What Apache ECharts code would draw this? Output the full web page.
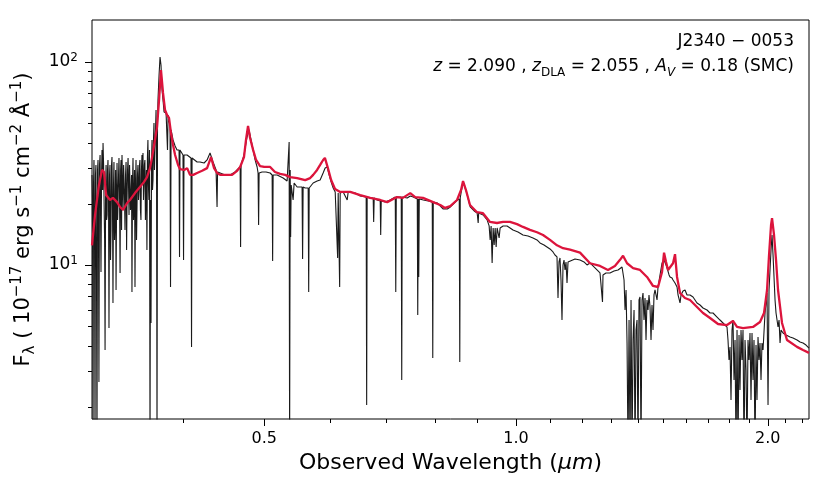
<!DOCTYPE html>
<html lang="en">
<head>
<meta charset="UTF-8" />
<title>J2340-0053 spectrum</title>
<script src="https://cdn.jsdelivr.net/npm/echarts@6/dist/echarts.min.js"></script>
<style>
  html, body { margin: 0; padding: 0; background: #fff; }
  #chart { width: 830px; height: 494px; }
</style>
</head>
<body>
<div id="chart"></div>
<script>
// observed spectrum, wavelength in micron
const obsWave = [
  0.3112, 0.3116, 0.3121, 0.3125, 0.3129, 0.3134, 0.3138, 0.3142, 0.3146, 0.3151,
  0.3155, 0.3160, 0.3164, 0.3168, 0.3172, 0.3177, 0.3182, 0.3186, 0.3190, 0.3195,
  0.3199, 0.3204, 0.3208, 0.3213, 0.3217, 0.3222, 0.3226, 0.3231, 0.3235, 0.3240,
  0.3244, 0.3248, 0.3252, 0.3257, 0.3261, 0.3266, 0.3270, 0.3275, 0.3279, 0.3284,
  0.3288, 0.3293, 0.3297, 0.3302, 0.3306, 0.3311, 0.3316, 0.3321, 0.3325, 0.3330,
  0.3334, 0.3339, 0.3343, 0.3348, 0.3352, 0.3357, 0.3362, 0.3367, 0.3371, 0.3376,
  0.3380, 0.3385, 0.3390, 0.3395, 0.3399, 0.3404, 0.3408, 0.3413, 0.3418, 0.3423,
  0.3427, 0.3432, 0.3437, 0.3442, 0.3446, 0.3451, 0.3455, 0.3460, 0.3465, 0.3470,
  0.3474, 0.3479, 0.3484, 0.3489, 0.3494, 0.3499, 0.3503, 0.3508, 0.3513, 0.3518,
  0.3522, 0.3527, 0.3532, 0.3537, 0.3542, 0.3547, 0.3551, 0.3556, 0.3561, 0.3566,
  0.3571, 0.3576, 0.3581, 0.3586, 0.3590, 0.3595, 0.3600, 0.3605, 0.3610, 0.3615,
  0.3620, 0.3625, 0.3630, 0.3635, 0.3640, 0.3646, 0.3651, 0.3656, 0.3661, 0.3666,
  0.3671, 0.3676, 0.3681, 0.3686, 0.3691, 0.3696, 0.3701, 0.3707, 0.3712, 0.3717,
  0.3722, 0.3727,
  0.3732, 0.3743, 0.3753, 0.3763,
  0.3774, 0.3784, 0.3795, 0.3805, 0.3816, 0.3826, 0.3831, 0.3837, 0.3858, 0.3863,
  0.3869, 0.3890, 0.3912, 0.3933, 0.3955, 0.3960, 0.3965, 0.3998, 0.4004, 0.4009,
  0.4043, 0.4065, 0.4087, 0.4093, 0.4099, 0.4110, 0.4156, 0.4190, 0.4237, 0.4272,
  0.4307, 0.4343, 0.4379, 0.4391, 0.4397, 0.4428, 0.4489, 0.4551, 0.4614, 0.4679,
  0.4685, 0.4691, 0.4729, 0.4769, 0.4795, 0.4822, 0.4849, 0.4876, 0.4903, 0.4916,
  0.4923, 0.4930, 0.4970, 0.5025, 0.5082, 0.5110, 0.5117, 0.5124, 0.5181, 0.5267,
  0.5325, 0.5355, 0.5362, 0.5370, 0.5377, 0.5385, 0.5414, 0.5429, 0.5474, 0.5549,
  0.5557, 0.5565, 0.5597, 0.5643, 0.5651, 0.5659, 0.5721, 0.5784, 0.5832, 0.5880,
  0.5913, 0.5946, 0.5979, 0.6012, 0.6045, 0.6079, 0.6112, 0.6120, 0.6129, 0.6146,
  0.6154, 0.6163, 0.6214, 0.6283, 0.6300, 0.6335, 0.6422, 0.6512, 0.6620, 0.6629,
  0.6638, 0.6694, 0.6749, 0.6758, 0.6768, 0.6823, 0.6881, 0.6890, 0.6900, 0.6976,
  0.7073, 0.7172, 0.7182, 0.7192, 0.7291, 0.7301, 0.7311, 0.7412, 0.7474, 0.7536,
  0.7620, 0.7630, 0.7641, 0.7651, 0.7662, 0.7748, 0.7855, 0.7941, 0.7952, 0.7963,
  0.8052, 0.8186, 0.8277, 0.8345, 0.8437, 0.8507, 0.8554, 0.8566, 0.8577, 0.8600,
  0.8648, 0.8696, 0.8743, 0.8815, 0.8912, 0.8986, 0.9011, 0.9023, 0.9135, 0.9236,
  0.9287, 0.9313, 0.9338, 0.9364, 0.9390, 0.9416, 0.9442, 0.9468, 0.9494, 0.9546,
  0.9572, 0.9651, 0.9757, 0.9838, 0.9918, 1.0055, 1.0194, 1.0336, 1.0479, 1.0595,
  1.0683, 1.0801, 1.0890, 1.0981, 1.1072, 1.1133, 1.1195, 1.1226, 1.1257, 1.1288,
  1.1319, 1.1350, 1.1382, 1.1413, 1.1445, 1.1476, 1.1508, 1.1540, 1.1603, 1.1764,
  1.1927, 1.2059, 1.2159, 1.2260, 1.2395, 1.2498, 1.2602, 1.2671, 1.2689, 1.2706,
  1.2811, 1.2954, 1.3097, 1.3243, 1.3390, 1.3464, 1.3501, 1.3539, 1.3576, 1.3613,
  1.3651, 1.3688, 1.3726, 1.3764, 1.3802, 1.3840, 1.3878, 1.3916, 1.3954, 1.3992,
  1.4031, 1.4069, 1.4108, 1.4147, 1.4186, 1.4225, 1.4265, 1.4304, 1.4343, 1.4383,
  1.4422, 1.4462, 1.4502, 1.4542, 1.4582, 1.4622, 1.4663, 1.4744, 1.4785, 1.4866,
  1.4949, 1.5032, 1.5115, 1.5157, 1.5240, 1.5281, 1.5366, 1.5408, 1.5493, 1.5579,
  1.5622, 1.5708, 1.5751, 1.5838, 1.5926, 1.6013, 1.6146, 1.6280, 1.6460, 1.6596,
  1.6734, 1.6919, 1.7060, 1.7201, 1.7393, 1.7536, 1.7682, 1.7779, 1.7877, 1.7926,
  1.7976, 1.8025, 1.8075, 1.8125, 1.8175, 1.8225, 1.8276, 1.8326, 1.8377, 1.8427,
  1.8478, 1.8528, 1.8580, 1.8631, 1.8682, 1.8734, 1.8786, 1.8838, 1.8889, 1.8941,
  1.8993, 1.9045, 1.9098, 1.9151, 1.9203, 1.9256, 1.9310, 1.9363, 1.9416, 1.9470,
  1.9523, 1.9577, 1.9631, 1.9685, 1.9740, 1.9849, 1.9959, 2.0014, 2.0069, 2.0180,
  2.0236, 2.0292, 2.0404, 2.0460, 2.0573, 2.0630, 2.0687, 2.0744, 2.0859, 2.1032,
  2.1264, 2.1440, 2.1678, 2.1857, 2.2038, 2.2221, 2.2404
];
// observed flux, 1e-17 erg/s/cm2/A
const obsFlux = [
  27.75, 20.9, 1.2, 24.78, 32.91, 13.28, 1.2, 27.75, 31.09, 8.436,
  1.2, 29.37, 32.91, 16.67, 2.652, 31.09, 34.83, 18.66, 9.24, 27.75,
  36.87, 23.42, 39.90, 31.09, 20.90, 13.28, 3.812, 24.78, 31.09, 16.67,
  17.63, 29.37, 32.91, 20.9, 4.892, 27.75, 31.09, 10.58, 14.87, 31.09,
  34.05, 18.66, 6.498, 24.78, 32.17, 13.28, 16.67, 29.37, 7.532, 20.9,
  31.80, 16.67, 19.75, 27.75, 33.66, 23.42, 9.133, 29.37, 32.91, 14.87,
  34.83, 24.78, 18.66, 31.09, 31.09, 20.9, 14.87, 27.75, 32.17, 11.85,
  20.90, 29.37, 33.66, 23.42, 17.63, 31.09, 31.09, 18.66, 22.13, 27.75,
  7.362, 24.78, 33.66, 16.67, 20.90, 29.37, 7.792, 23.42, 32.91, 13.28,
  18.66, 27.75, 31.09, 20.9, 23.42, 31.09, 32.91, 18.66, 16.67, 29.37,
  34.83, 24.78, 35.63, 20.9, 20.90, 31.09, 32.91, 16.67, 23.42, 29.37,
  11.85, 33.66, 41.29, 24.78, 20.90, 36.87, 1.2, 20.9, 5.178, 31.09,
  41.29, 23.42, 26.23, 41.29, 50.06, 29.37, 36.87, 46.25, 58.02, 36.87,
  1.2, 50.06,
  65.01, 86.30, 105.8, 96.65,
  72.79, 65.01, 56.72, 58.02, 56.08, 56.08, 36.87, 54.82, 47.83, 7.792,
  46.25, 41.29, 38.57, 36.87, 36.87, 10.95, 36.87, 34.83, 10.58, 34.83,
  34.83, 34.05, 33.66, 3.944, 33.66, 32.91, 32.17, 32.17, 31.80, 32.91,
  35.63, 32.17, 29.37, 19.31, 28.71, 28.39, 27.75, 27.75, 28.71, 30.39,
  12.27, 31.09, 34.83, 42.71, 46.25, 41.29, 36.87, 32.91, 30.39, 28.39,
  15.74, 28.39, 28.71, 28.71, 28.39, 27.75, 10.46, 27.75, 27.75, 26.83,
  25.93, 40.36, 1.2, 29.37, 13.74, 24.78, 20.90, 25.35, 24.23, 24.23,
  10.70, 24.23, 23.95, 23.95, 7.362, 23.95, 25.35, 25.93, 26.23, 28.39,
  30.05, 30.39, 27.75, 25.64, 23.95, 22.89, 22.64, 10.83, 22.64, 22.64,
  7.792, 22.64, 22.89, 20.90, 22.89, 22.89, 22.64, 21.88, 21.63, 2.043,
  21.63, 21.38, 21.38, 16.29, 21.38, 20.90, 20.67, 14.05, 20.67, 20.43,
  20.90, 21.63, 7.362, 21.63, 21.63, 2.713, 21.63, 21.38, 21.88, 21.63,
  21.14, 5.670, 21.14, 8.727, 21.14, 20.90, 20.67, 20.43, 3.482, 20.43,
  20.20, 18.87, 18.87, 19.31, 20.20, 20.90, 21.14, 3.327, 21.38, 22.89,
  25.64, 23.95, 22.13, 19.31, 18.45, 18.04, 16.11, 18.04, 17.63, 16.67,
  15.57, 13.28, 15.57, 10.23, 15.22, 12.55, 15.22, 12.27, 15.22, 13.58,
  15.22, 15.57, 15.57, 15.22, 14.87, 14.54, 14.05, 13.89, 13.58, 13.28,
  12.84, 12.55, 12.27, 11.99, 11.59, 11.20, 10.95, 6.878, 10.35, 10.83,
  8.436, 5.357, 10.00, 10.58, 9.449, 10.35, 8.154, 10.35, 10.58, 10.70,
  10.58, 10.35, 10.00, 10.23, 9.776, 9.449, 9.133, 8.929, 6.572, 8.929,
  9.133, 9.133, 9.342, 9.449, 9.776, 8.436, 6.001, 7.532, 4.127, 1.2,
  5.357, 1.2, 6.723, 1.2, 4.270, 6.001, 1.2, 4.783, 5.357, 1.2,
  6.723, 6.956, 1.2, 6.723, 7.279, 5.357, 6.878, 4.270, 6.723, 6.001,
  7.116, 6.209, 4.270, 6.352, 4.783, 7.116, 7.532, 6.723, 7.792, 8.929,
  10.23, 10.58, 10.00, 9.666, 8.929, 8.727, 8.630, 8.436, 8.154, 7.792,
  7.116, 6.498, 7.116, 7.447, 7.532, 7.116, 7.116, 6.956, 6.498, 6.352,
  6.139, 6.001, 5.800, 5.800, 5.542, 5.357, 5.178, 5.062, 4.948, 4.270,
  3.404, 3.944, 2.163, 4.783, 5.357, 2.713, 4.270, 1.2, 4.783, 1.2,
  4.519, 2.422, 4.783, 3.404, 4.783, 1.2, 4.270, 3.039, 1.2, 4.270,
  3.404, 4.623, 2.163, 4.623, 2.713, 4.270, 1.2, 4.034, 2.163, 4.418,
  3.404, 4.127, 2.713, 4.127, 3.812, 5.800, 7.279, 2.043, 7.532, 11.85,
  14.05, 11.20, 6.723, 5.800, 4.948, 5.357, 4.127, 4.783, 4.623, 4.519,
  4.418, 4.368, 4.270, 4.174, 4.127, 4.034, 3.899
];

// reddened quasar template (SMC, A_V = 0.18)
const modelWave = [
  0.3112, 0.3138, 0.3172, 0.3199, 0.3217, 0.3235, 0.3270, 0.3297, 0.3334, 0.3362,
  0.3390, 0.3428, 0.3455, 0.3503, 0.3551, 0.3590, 0.3621, 0.3651, 0.3672, 0.3701,
  0.3722, 0.3743, 0.3763, 0.3784, 0.3805, 0.3826, 0.3847, 0.3868, 0.3890, 0.3912,
  0.3944, 0.3965, 0.4011, 0.4044, 0.4076, 0.4112, 0.4156, 0.4214, 0.4272, 0.4319,
  0.4355, 0.4391, 0.4428, 0.4502, 0.4576, 0.4640, 0.4679, 0.4729, 0.4755, 0.4782,
  0.4809, 0.4849, 0.4889, 0.4943, 0.5000, 0.5082, 0.5150, 0.5224, 0.5296, 0.5370,
  0.5474, 0.5597, 0.5674, 0.5721, 0.5783, 0.5832, 0.5880, 0.5909, 0.5958, 0.6011,
  0.6076, 0.6163, 0.6335, 0.6512, 0.6694, 0.6881, 0.7015, 0.7206, 0.7324, 0.7474,
  0.7576, 0.7741, 0.7959, 0.8118, 0.8226, 0.8345, 0.8502, 0.8596, 0.8643, 0.8713,
  0.8810, 0.8982, 0.9131, 0.9309, 0.9490, 0.9649, 0.9836, 1.0028, 1.0194, 1.0393,
  1.0595, 1.0772, 1.0981, 1.1195, 1.1382, 1.1603, 1.1927, 1.2260, 1.2602, 1.2882,
  1.3130, 1.3316, 1.3427, 1.3576, 1.3803, 1.4069, 1.4343, 1.4583, 1.4786, 1.4949,
  1.5032, 1.5115, 1.5198, 1.5281, 1.5408, 1.5493, 1.5579, 1.5708, 1.5922, 1.6146,
  1.6458, 1.6734, 1.7060, 1.7440, 1.7875, 1.8174, 1.8376, 1.8682, 1.9202, 1.9577,
  1.9795, 1.9960, 2.0070, 2.0180, 2.0236, 2.0347, 2.0460, 2.0573, 2.0800, 2.1087,
  2.1675, 2.2038, 2.2404
];
const modelFlux = [
  12.5, 17.6, 24.8, 29.4, 28.7, 22.1, 20.9, 21.4, 20.4, 19.3,
  18.7, 20.2, 20.9, 22.6, 24.2, 25.6, 27.1, 30.0, 34.0, 41.3,
  47.8, 65.0, 91.3, 70.4, 58.0, 54.8, 53.0, 44.7, 39.0, 34.8,
  31.1, 29.7, 29.4, 30.0, 27.8, 27.8, 28.4, 29.1, 30.0, 34.0,
  30.0, 28.4, 27.8, 27.8, 27.8, 29.1, 30.4, 34.0, 41.3, 48.4,
  42.2, 36.9, 32.9, 30.7, 30.4, 30.4, 28.7, 28.1, 27.8, 27.1,
  26.8, 26.2, 26.8, 27.8, 29.4, 31.1, 32.9, 33.7, 30.0, 26.2,
  23.7, 22.9, 22.9, 22.1, 21.4, 20.9, 20.4, 21.6, 21.4, 22.6,
  21.6, 21.4, 20.4, 19.75, 19.1, 19.5, 20.9, 23.4, 25.9, 23.4,
  19.75, 18.2, 18.0, 16.3, 16.1, 16.3, 16.3, 15.9, 15.4, 14.9,
  14.5, 14.05, 13.3, 12.5, 12.1, 11.9, 11.5, 10.2, 9.89, 9.45,
  9.89, 10.6, 11.1, 10.2, 9.66, 9.45, 8.73, 7.88, 7.79, 9.24,
  11.5, 10.35, 9.45, 9.24, 10.2, 11.3, 8.73, 7.28, 6.88, 6.72,
  6.21, 5.80, 5.48, 5.12, 5.06, 5.30, 4.95, 4.89, 4.95, 5.24,
  5.80, 7.53, 11.2, 15.7, 17.0, 14.05, 10.6, 7.53, 5.18, 4.27,
  3.95, 3.81, 3.69
];

const xRange = [0.3112, 2.2404];
const yRange = [1.743, 161];
const xMajorTicks = [0.5, 1.0, 2.0];
const xMinorTicks = [0.4, 0.6, 0.7, 0.8, 0.9, 1.1, 1.2, 1.3, 1.4, 1.5, 1.6, 1.7, 1.8, 1.9, 2.1, 2.2];
const yMajorTicks = [10, 100];
const yMinorTicks = [2, 3, 4, 5, 6, 7, 8, 9, 20, 30, 40, 50, 60, 70, 80, 90];

const font = "DejaVu Sans";
const pairs = (xs, ys) => xs.map((x, i) => [x, ys[i]]);

const chart = echarts.init(document.getElementById("chart"));

const sup = { fontFamily: font, fontSize: 12, lineHeight: 11, verticalAlign: "top", color: "#000" };
const txt = { fontFamily: font, fontSize: 21, lineHeight: 28, color: "#000" };

const minorX = {
  type: "log", min: xRange[0], max: xRange[1], position: "bottom",
  axisLine: { show: false }, splitLine: { show: false },
  axisLabel: { show: false },
  axisTick: { customValues: xMinorTicks, length: 4, lineStyle: { color: "#000", width: 1 } }
};
const minorY = {
  type: "log", min: yRange[0], max: yRange[1], position: "left",
  axisLine: { show: false }, splitLine: { show: false },
  axisLabel: { show: false },
  axisTick: { customValues: yMinorTicks, length: 4, lineStyle: { color: "#000", width: 1 } }
};

chart.setOption({
  animation: false,
  grid: { left: 92, top: 20, width: 717, height: 399, show: true, borderColor: "#000", borderWidth: 1 },
  xAxis: [
    {
      type: "log", min: xRange[0], max: xRange[1], position: "bottom",
      axisLine: { show: false }, splitLine: { show: false },
      axisTick: { customValues: xMajorTicks, length: 7, lineStyle: { color: "#000", width: 1 } },
      axisLabel: {
        customValues: xMajorTicks, formatter: (v) => v.toFixed(1),
        fontFamily: font, fontSize: 16, color: "#000", margin: 12
      },
      name: "{t|Observed Wavelength (}{i|μm}{t|)}",
      nameLocation: "middle", nameGap: 33,
      nameTextStyle: {
        rich: {
          t: { fontFamily: font, fontSize: 22, color: "#000" },
          i: { fontFamily: font, fontSize: 22, fontStyle: "italic", color: "#000" }
        }
      }
    },
    minorX
  ],
  yAxis: [
    {
      type: "log", min: yRange[0], max: yRange[1], position: "left",
      axisLine: { show: false }, splitLine: { show: false },
      axisTick: { customValues: yMajorTicks, length: 7, lineStyle: { color: "#000", width: 1 } },
      axisLabel: {
        customValues: yMajorTicks,
        formatter: (v) => "10{s|" + Math.round(Math.log10(v)) + "}",
        fontFamily: font, fontSize: 17, lineHeight: 20, color: "#000", margin: 14,
        rich: { s: sup }
      },
      name: "{t|F}{b|λ}{t| ( 10}{p|−17}{t| erg s}{p|−1}{t| cm}{p|−2}{t| Å}{p|−1}{t|)}",
      nameLocation: "middle", nameGap: 47, nameRotate: 90,
      nameTextStyle: {
        rich: {
          t: txt,
          p: { fontFamily: font, fontSize: 15, lineHeight: 14, verticalAlign: "top", color: "#000" },
          b: { fontFamily: font, fontSize: 15, lineHeight: 14, verticalAlign: "bottom", color: "#000" }
        }
      }
    },
    minorY
  ],
  graphic: [
    {
      type: "text", right: 36, top: 33,
      style: { text: "J2340 − 0053", fontFamily: font, fontSize: 17, fill: "#000", textAlign: "right" }
    },
    {
      type: "text", right: 36, top: 58,
      style: {
        text: "{i|z} = 2.090 , {i|z}{s|DLA} = 2.055 , {i|A}{si|V} = 0.18 (SMC)",
        fontFamily: font, fontSize: 17, fill: "#000", textAlign: "right",
        rich: {
          i: { fontFamily: font, fontSize: 17, fontStyle: "italic", lineHeight: 24 },
          s: { fontFamily: font, fontSize: 12, lineHeight: 12, verticalAlign: "bottom" },
          si: { fontFamily: font, fontSize: 12, lineHeight: 12, fontStyle: "italic", verticalAlign: "bottom" }
        }
      }
    }
  ],
  series: [
    {
      type: "line", name: "observed", xAxisIndex: 0, yAxisIndex: 0,
      data: pairs(obsWave, obsFlux), showSymbol: false, clip: true,
      lineStyle: { color: "#1a1a1a", width: 1.1 }, z: 2
    },
    {
      type: "line", name: "model", xAxisIndex: 0, yAxisIndex: 0,
      data: pairs(modelWave, modelFlux), showSymbol: false, clip: true,
      lineStyle: { color: "#dc143c", width: 2.3 }, z: 3
    }
  ]
});
</script>
</body>
</html>
